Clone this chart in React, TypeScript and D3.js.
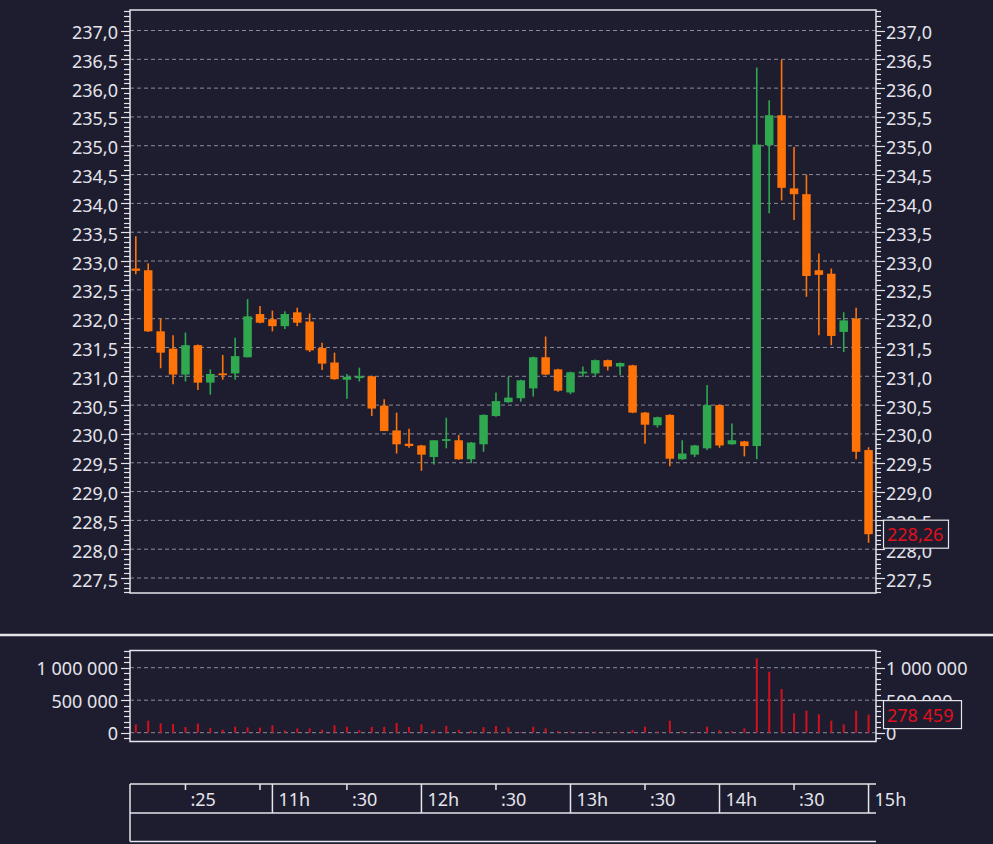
import * as d3 from 'd3'
import * as React from 'react'

//------------------------------data------------------------------
const FIRST_BAR = new Date(2024, 0, 2, 10, 5)
const LAST_BAR = new Date(2024, 0, 2, 15, 0)

const opens = [
  232.87, 232.84, 231.78, 231.48, 231.03, 231.54, 230.89, 231.05, 231.05, 231.33,
  232.08, 231.99, 231.87, 232.11, 231.95, 231.49, 231.24, 230.94, 230.97, 231.0,
  230.49, 230.06, 229.83, 229.8, 229.6, 229.88, 229.89, 229.56, 229.82, 230.31,
  230.55, 230.62, 230.79, 231.33, 231.12, 230.72, 231.05, 231.05, 231.28, 231.17,
  231.19, 230.37, 230.15, 230.33, 229.56, 229.64, 229.75, 230.5, 229.82, 229.87,
  229.79, 235.01, 235.53, 234.26, 234.16, 232.84, 232.78, 231.77, 232.0, 229.72
]
const highs = [
  233.43, 232.96, 232.0, 231.71, 231.76, 231.55, 231.12, 231.37, 231.67, 232.34,
  232.22, 232.14, 232.13, 232.19, 232.09, 231.58, 231.41, 231.04, 231.15, 231.01,
  230.6, 230.37, 230.09, 229.81, 229.89, 230.28, 229.98, 229.86, 230.34, 230.72,
  230.99, 230.94, 231.34, 231.69, 231.13, 231.08, 231.17, 231.29, 231.29, 231.24,
  231.2, 230.38, 230.3, 230.34, 229.89, 229.81, 230.85, 230.51, 230.18, 229.88,
  236.36, 235.79, 236.49, 234.98, 234.5, 233.13, 232.87, 232.11, 232.19, 229.77
]
const lows = [
  232.77, 231.77, 231.14, 230.86, 230.91, 230.76, 230.68, 230.94, 230.94, 231.33,
  231.92, 231.78, 231.82, 231.87, 231.42, 231.11, 230.94, 230.61, 230.91, 230.31,
  230.05, 229.66, 229.76, 229.36, 229.47, 229.75, 229.55, 229.49, 229.69, 230.3,
  230.54, 230.56, 230.65, 231.02, 230.73, 230.69, 230.99, 231.01, 231.1, 231.02,
  230.36, 229.83, 230.11, 229.44, 229.55, 229.6, 229.72, 229.76, 229.81, 229.61,
  229.56, 233.83, 234.05, 233.71, 232.38, 231.71, 231.54, 231.42, 229.56, 228.11
]
const closes = [
  232.83, 231.78, 231.41, 231.03, 231.54, 230.89, 231.04, 231.02, 231.35, 232.04,
  231.93, 231.87, 232.08, 231.93, 231.45, 231.22, 230.95, 230.99, 231.0, 230.44,
  230.05, 229.82, 229.79, 229.64, 229.89, 229.91, 229.56, 229.85, 230.33, 230.57,
  230.63, 230.93, 231.33, 231.03, 230.75, 231.07, 231.08, 231.28, 231.17, 231.23,
  230.37, 230.16, 230.29, 229.57, 229.66, 229.8, 230.5, 229.8, 229.89, 229.79,
  235.02, 235.53, 234.27, 234.16, 232.74, 232.76, 231.7, 231.97, 229.69, 228.26
]
const volumes = [
  128000, 185000, 145000, 133000, 88000, 140000, 72000, 45000, 92000, 82000,
  77000, 113000, 35000, 64000, 67000, 46000, 113000, 92000, 41000, 90000,
  88000, 150000, 87000, 128000, 38000, 103000, 46000, 31000, 85000, 103000,
  82000, 12000, 92000, 67000, 26000, 18000, 12000, 15000, 8000, 14000,
  41000, 92000, 20000, 185000, 26000, 12000, 92000, 41000, 26000, 67000,
  1144000, 938000, 672000, 297000, 338000, 282000, 185000, 128000, 338000, 278459
]
const hourTicks = [11, 12, 13, 14, 15]
const minuteTicks = [
  { h: 10, m: 25, label: ':25' },
  { h: 10, m: 55, label: '' },
  { h: 11, m: 30, label: ':30' },
  { h: 12, m: 30, label: ':30' },
  { h: 13, m: 30, label: ':30' },
  { h: 14, m: 30, label: ':30' }
]
const volumeLabels = [0, 500000, 1000000]

//------------------------------layout------------------------------
const WIDTH = 993
const HEIGHT = 844
const BG = '#1e1d30'
const FG = '#e4e4ea'
const GRID = '#8c8c98'
const UP = '#2fa84f'
const DOWN = '#ff7308'
const VOL = '#d3111c'
const FONT = '"Noto Sans", "Open Sans", sans-serif'
const PLOT = { left: 130, right: 876, top: 10, bottom: 593 }
const VPLOT = { top: 650.5, bottom: 741.5 }

const locale = d3.formatLocale({
  decimal: ',',
  thousands: ' ',
  grouping: [3],
  currency: ['', '']
})
const fmt1 = locale.format('.1f')
const fmt2 = locale.format('.2f')
const fmtInt = locale.format(',.0f')

//------------------------------draw------------------------------
const drawChart = (svgRef: React.RefObject<SVGSVGElement | null>) => {
  const svg = d3.select(svgRef.current)
  svg.selectAll('*').remove()
  svg.attr('width', WIDTH).attr('height', HEIGHT)
  svg.append('rect').attr('width', WIDTH).attr('height', HEIGHT).attr('fill', BG)

  const times = d3.timeMinute.every(5)!.range(FIRST_BAR, new Date(LAST_BAR.getTime() + 1000))
  const day = (h: number, m: number, s = 0) => new Date(2024, 0, 2, h, m, s)

  const x = d3
    .scaleTime()
    .domain([day(10, 2, 40), day(15, 3, 0)])
    .range([PLOT.left, PLOT.right])
  const y = d3.scaleLinear().domain([227.5, 237]).range([578, 30.5])
  const yv = d3.scaleLinear().domain([0, 1000000]).range([732.7, 667.7])

  const text = (g: d3.Selection<any, any, any, any>) =>
    g.attr('fill', FG).attr('font-family', FONT).attr('font-size', 18)

  //------------------------------price panel------------------------------
  const majors = d3.range(227.5, 237.01, 0.5)
  const grid = svg.append('g')
  grid
    .selectAll('line')
    .data(majors)
    .join('line')
    .attr('x1', PLOT.left)
    .attr('x2', PLOT.right)
    .attr('y1', d => y(d))
    .attr('y2', d => y(d))
    .attr('stroke', GRID)
    .attr('stroke-width', 1)
    .attr('stroke-dasharray', '4,3')

  // minor ticks: six per half unit
  const minor = d3.range(-3, 119).map(i => 227.5 + i / 12)
  const tickG = svg.append('g').attr('stroke', FG).attr('stroke-width', 1.2)
  minor.forEach((p, i) => {
    const isMajor = (i + 3) % 6 === 0 && p <= 237.01
    const yy = Math.round(y(p)) + 0.5
    tickG.append('line').attr('x1', isMajor ? 121 : 124).attr('x2', PLOT.left).attr('y1', yy).attr('y2', yy)
    tickG.append('line').attr('x1', PLOT.right).attr('x2', isMajor ? 885 : 881).attr('y1', yy).attr('y2', yy)
  })

  const labels = svg.append('g')
  labels
    .selectAll('text.left')
    .data(majors)
    .join('text')
    .attr('class', 'left')
    .attr('x', 118)
    .attr('y', d => y(d) + 8.5)
    .attr('text-anchor', 'end')
    .text(d => fmt1(d))
    .call(text)
  labels
    .selectAll('text.right')
    .data(majors)
    .join('text')
    .attr('class', 'right')
    .attr('x', 886)
    .attr('y', d => y(d) + 8.5)
    .text(d => fmt1(d))
    .call(text)

  // candles
  const bodyW = 8.5
  const candles = svg.append('g')
  times.forEach((t, i) => {
    const o = opens[i]
    const c = closes[i]
    const col = c >= o ? UP : DOWN
    const cx = x(t)
    candles
      .append('line')
      .attr('x1', cx)
      .attr('x2', cx)
      .attr('y1', y(highs[i]))
      .attr('y2', y(lows[i]))
      .attr('stroke', col)
      .attr('stroke-width', 1.6)
    const top = y(Math.max(o, c))
    const h = Math.max(1.8, Math.abs(y(o) - y(c)))
    candles
      .append('rect')
      .attr('x', cx - bodyW / 2)
      .attr('y', top)
      .attr('width', bodyW)
      .attr('height', h)
      .attr('fill', col)
  })

  svg
    .append('rect')
    .attr('x', PLOT.left)
    .attr('y', PLOT.top)
    .attr('width', PLOT.right - PLOT.left)
    .attr('height', PLOT.bottom - PLOT.top)
    .attr('fill', 'none')
    .attr('stroke', FG)
    .attr('stroke-width', 1.5)

  // last price tag
  const lastPrice = closes[closes.length - 1]
  const py = y(lastPrice)
  svg
    .append('rect')
    .attr('x', 883.5)
    .attr('y', py - 14)
    .attr('width', 65)
    .attr('height', 28)
    .attr('fill', BG)
    .attr('stroke', FG)
    .attr('stroke-width', 1.2)
  svg
    .append('text')
    .attr('x', 887)
    .attr('y', py + 7)
    .text(fmt2(lastPrice))
    .call(text)
    .attr('fill', '#e0101c')

  //------------------------------separator------------------------------
  svg
    .append('line')
    .attr('x1', 0)
    .attr('x2', WIDTH)
    .attr('y1', 635)
    .attr('y2', 635)
    .attr('stroke', FG)
    .attr('stroke-width', 2.5)

  //------------------------------volume panel------------------------------
  svg
    .append('g')
    .selectAll('line')
    .data(volumeLabels)
    .join('line')
    .attr('x1', PLOT.left)
    .attr('x2', PLOT.right)
    .attr('y1', d => yv(d))
    .attr('y2', d => yv(d))
    .attr('stroke', GRID)
    .attr('stroke-dasharray', '4,3')

  const vstep = 500000 / 6
  const vTicks = svg.append('g').attr('stroke', FG).attr('stroke-width', 1.2)
  d3.range(-1, 16).forEach(k => {
    const isMajor = k % 6 === 0
    const yy = Math.round(yv(k * vstep)) + 0.5
    vTicks.append('line').attr('x1', isMajor ? 121 : 124).attr('x2', PLOT.left).attr('y1', yy).attr('y2', yy)
    vTicks.append('line').attr('x1', PLOT.right).attr('x2', isMajor ? 885 : 881).attr('y1', yy).attr('y2', yy)
  })

  const vLab = svg.append('g')
  vLab
    .selectAll('text.left')
    .data(volumeLabels)
    .join('text')
    .attr('class', 'left')
    .attr('x', 118)
    .attr('y', d => yv(d) + 7.5)
    .attr('text-anchor', 'end')
    .text(d => fmtInt(d))
    .call(text)
  vLab
    .selectAll('text.right')
    .data(volumeLabels)
    .join('text')
    .attr('class', 'right')
    .attr('x', 886)
    .attr('y', d => yv(d) + 7.5)
    .text(d => fmtInt(d))
    .call(text)

  svg
    .append('g')
    .selectAll('rect')
    .data(times)
    .join('rect')
    .attr('x', d => x(d) - 1)
    .attr('width', 2)
    .attr('y', (d, i) => yv(volumes[i]))
    .attr('height', (d, i) => yv(0) - yv(volumes[i]))
    .attr('fill', VOL)

  svg
    .append('rect')
    .attr('x', PLOT.left)
    .attr('y', VPLOT.top)
    .attr('width', PLOT.right - PLOT.left)
    .attr('height', VPLOT.bottom - VPLOT.top)
    .attr('fill', 'none')
    .attr('stroke', FG)
    .attr('stroke-width', 1.5)

  const lastVol = volumes[volumes.length - 1]
  const vy = yv(lastVol)
  svg
    .append('rect')
    .attr('x', 883.5)
    .attr('y', vy - 14)
    .attr('width', 78)
    .attr('height', 28)
    .attr('fill', BG)
    .attr('stroke', FG)
    .attr('stroke-width', 1.2)
  svg
    .append('text')
    .attr('x', 887)
    .attr('y', vy + 7)
    .text(fmtInt(lastVol))
    .call(text)
    .attr('fill', '#e0101c')

  //------------------------------time axis------------------------------
  const ta = svg.append('g').attr('stroke', FG).attr('stroke-width', 1.5).attr('fill', 'none')
  ta.append('line').attr('x1', PLOT.left).attr('x2', PLOT.right).attr('y1', 784).attr('y2', 784)
  ta.append('line').attr('x1', PLOT.left).attr('x2', PLOT.right).attr('y1', 813).attr('y2', 813)
  ta.append('line').attr('x1', PLOT.left).attr('x2', PLOT.right).attr('y1', 841.5).attr('y2', 841.5)
  ta.append('line').attr('x1', PLOT.left).attr('x2', PLOT.left).attr('y1', 784).attr('y2', 841.5)

  hourTicks.forEach(h => {
    const xx = x(day(h, 0))
    ta.append('line').attr('x1', xx).attr('x2', xx).attr('y1', 784).attr('y2', 813)
    svg
      .append('text')
      .attr('x', xx + 6)
      .attr('y', 806)
      .text(`${h}h`)
      .call(text)
  })
  minuteTicks.forEach(t => {
    const xx = x(day(t.h, t.m))
    ta.append('line').attr('x1', xx).attr('x2', xx).attr('y1', 784).attr('y2', 790)
    if (t.label) {
      svg
        .append('text')
        .attr('x', xx + 5)
        .attr('y', 806)
        .text(t.label)
        .call(text)
    }
  })
}

//------------------------------Component------------------------------
export default function App() {
  const chartSvg = React.useRef<SVGSVGElement>(null)

  React.useEffect(() => {
    drawChart(chartSvg)
  }, [])

  return (
    <svg
      ref={chartSvg}
      style={{ position: 'absolute', left: 0, top: 0, display: 'block' }}
    />
  )
}
